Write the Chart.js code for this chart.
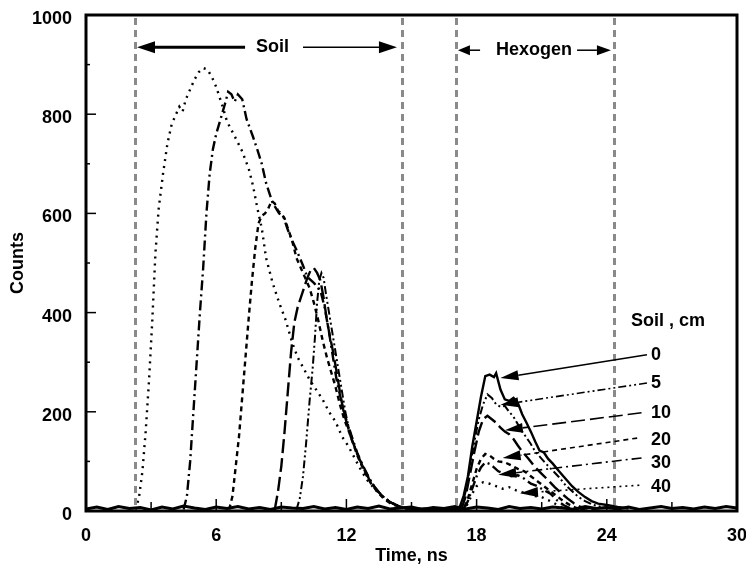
<!DOCTYPE html>
<html>
<head>
<meta charset="utf-8">
<script src="https://cdn.jsdelivr.net/npm/chart.js@4.4.0/dist/chart.umd.min.js"></script>
<style>
  html, body { margin: 0; padding: 0; background: #fff; }
  #wrap { width: 746px; height: 569px; }
</style>
</head>
<body>
<div id="wrap"><canvas id="chart"></canvas></div>
<script>
// soil depths (cm) shown in the legend
const depths = ['0', '5', '10', '20', '30', '40']

// [time ns, counts] - soil peak part
const soil5 = [[9.7, 3], [9.85, 25], [10.0, 70], [10.15, 140], [10.3, 220], [10.45, 290], [10.55, 350], [10.65, 420], [10.75, 465], [10.85, 480], [10.95, 470], [11.05, 440], [11.2, 400], [11.35, 360], [11.5, 320], [11.65, 280], [11.8, 240], [11.95, 200], [12.1, 170], [12.3, 140], [12.6, 105], [12.9, 78], [13.2, 55], [13.5, 38], [13.8, 25], [14.1, 16], [14.5, 9], [14.9, 5], [16.0, 4]]
const soil10 = [[8.7, 3], [8.85, 40], [9.0, 90], [9.15, 160], [9.3, 240], [9.45, 320], [9.6, 380], [9.75, 410], [9.9, 430], [10.05, 450], [10.2, 470], [10.35, 485], [10.5, 490], [10.65, 480], [10.8, 465], [10.95, 430], [11.1, 385], [11.25, 350], [11.4, 318], [11.55, 280], [11.7, 240], [11.85, 205], [12.0, 180], [12.2, 150], [12.5, 115], [12.8, 85], [13.1, 60], [13.4, 42], [13.7, 28], [14.0, 18], [14.4, 10], [14.8, 5], [16.0, 4]]
const soil20 = [[6.6, 3], [6.75, 30], [6.9, 90], [7.05, 150], [7.2, 230], [7.35, 310], [7.5, 390], [7.65, 465], [7.8, 530], [7.95, 580], [8.1, 595], [8.25, 600], [8.4, 610], [8.55, 625], [8.7, 620], [8.85, 605], [9.0, 600], [9.15, 590], [9.3, 570], [9.5, 545], [9.7, 510], [9.9, 490], [10.1, 470], [10.3, 450], [10.5, 420], [10.7, 385], [10.9, 345], [11.1, 310], [11.3, 280], [11.5, 250], [11.7, 215], [11.9, 185], [12.2, 150], [12.5, 112], [12.8, 82], [13.1, 58], [13.4, 40], [13.7, 26], [14.0, 16], [14.4, 9], [14.8, 5], [16.0, 4]]
const soil30 = [[4.5, 3], [4.65, 30], [4.8, 100], [4.95, 200], [5.1, 300], [5.25, 400], [5.4, 490], [5.55, 600], [5.7, 680], [5.85, 730], [6.0, 760], [6.2, 790], [6.4, 820], [6.55, 845], [6.7, 840], [6.85, 825], [7.0, 840], [7.2, 830], [7.4, 790], [7.7, 754], [7.9, 728], [8.1, 700], [8.3, 661], [8.6, 621], [8.9, 600], [9.1, 593], [9.3, 567], [9.5, 545], [9.7, 526], [10.0, 495], [10.2, 472], [10.5, 460], [10.8, 445], [11.0, 410], [11.2, 360], [11.4, 305], [11.55, 264], [11.8, 215], [12.0, 183], [12.25, 150], [12.5, 117], [12.8, 88], [13.1, 62], [13.4, 42], [13.7, 28], [14.0, 18], [14.4, 10], [14.8, 5], [16.0, 4]]
const soil40 = [[2.3, 3], [2.45, 30], [2.6, 80], [2.75, 160], [2.9, 260], [3.05, 380], [3.2, 520], [3.35, 610], [3.55, 680], [3.75, 740], [3.95, 780], [4.15, 800], [4.3, 815], [4.45, 805], [4.6, 830], [4.8, 850], [5.0, 870], [5.2, 885], [5.4, 893], [5.6, 890], [5.8, 875], [6.0, 855], [6.3, 815], [6.5, 785], [6.8, 760], [7.2, 725], [7.5, 690], [7.7, 655], [7.9, 610], [8.1, 570], [8.3, 510], [8.6, 460], [8.9, 420], [9.2, 385], [9.5, 340], [9.75, 310], [10.0, 290], [10.3, 265], [10.6, 245], [10.9, 225], [11.2, 200], [11.5, 180], [11.8, 150], [12.1, 130], [12.4, 105], [12.7, 80], [13.0, 60], [13.3, 45], [13.6, 32], [13.9, 22], [14.2, 14], [14.5, 8], [15.0, 4], [16.0, 4]]

// [time ns, counts] - hexogen peak part
const hex0 = [[17.0, 4], [17.2, 5], [17.4, 30], [17.6, 70], [17.8, 130], [18.0, 180], [18.2, 230], [18.4, 272], [18.6, 275], [18.8, 270], [18.9, 278], [19.1, 245], [19.3, 225], [19.5, 222], [19.7, 228], [19.9, 218], [20.1, 195], [20.3, 178], [20.5, 160], [20.7, 140], [20.9, 122], [21.1, 118], [21.3, 105], [21.5, 96], [21.8, 80], [22.1, 65], [22.4, 50], [22.7, 38], [23.0, 28], [23.3, 20], [23.6, 15], [24.0, 12], [24.5, 8], [25.0, 5]]
const hex5 = [[17.3, 5], [17.5, 40], [17.7, 90], [17.9, 140], [18.1, 185], [18.3, 215], [18.5, 235], [18.7, 228], [18.9, 215], [19.1, 210], [19.3, 212], [19.5, 200], [19.7, 190], [19.9, 175], [20.1, 160], [20.3, 148], [20.5, 135], [20.7, 120], [20.9, 110], [21.2, 95], [21.5, 82], [21.8, 68], [22.1, 52], [22.4, 40], [22.7, 28], [23.0, 20], [23.4, 12], [23.8, 8], [24.5, 5]]
const hex10 = [[17.3, 4], [17.5, 30], [17.7, 75], [17.9, 120], [18.1, 160], [18.3, 185], [18.5, 192], [18.7, 185], [18.9, 178], [19.1, 168], [19.3, 160], [19.5, 155], [19.7, 145], [19.9, 132], [20.1, 120], [20.4, 105], [20.7, 88], [21.0, 75], [21.3, 62], [21.6, 48], [21.9, 36], [22.2, 25], [22.5, 15], [22.8, 8], [23.5, 5]]
const hex20 = [[17.4, 4], [17.6, 25], [17.8, 55], [18.0, 85], [18.2, 105], [18.4, 115], [18.6, 112], [18.8, 105], [19.0, 100], [19.3, 98], [19.6, 92], [19.9, 85], [20.2, 80], [20.5, 70], [20.8, 60], [21.1, 50], [21.4, 40], [21.7, 30], [22.0, 20], [22.3, 12], [22.6, 6], [23.5, 4]]
const hex30 = [[17.4, 3], [17.6, 20], [17.8, 45], [18.0, 70], [18.2, 88], [18.4, 98], [18.6, 95], [18.8, 88], [19.0, 80], [19.3, 75], [19.6, 70], [19.9, 72], [20.2, 65], [20.5, 55], [20.8, 50], [21.1, 42], [21.4, 35], [21.7, 22], [22.0, 12], [22.3, 6], [23.0, 4]]
const hex40 = [[17.4, 3], [17.6, 15], [17.8, 35], [18.0, 50], [18.3, 58], [18.6, 55], [18.9, 50], [19.2, 45], [19.5, 48], [19.8, 42], [20.1, 38], [20.4, 35], [20.7, 30], [21.0, 28], [21.3, 22], [21.6, 15], [21.9, 8], [22.2, 4], [23.0, 3]]

// noisy background along the time axis
const baseTimes = [0, 0.5, 1, 1.5, 2, 2.5, 3, 3.5, 4, 4.5, 5, 5.5, 6, 6.5, 7, 7.5, 8, 8.5, 9, 9.5, 10, 10.5, 11, 11.5, 12, 12.5, 13, 13.5, 14, 14.5, 15, 15.5, 16, 16.5, 17, 17.5, 18, 18.5, 19, 19.5, 20, 20.5, 21, 21.5, 22, 22.5, 23, 23.5, 24, 24.5, 25, 25.5, 26, 26.5, 27, 27.5, 28, 28.5, 29, 29.5, 30]
const baseCounts = [4, 8, 3, 9, 5, 7, 2, 8, 4, 10, 6, 3, 8, 5, 9, 4, 7, 3, 8, 6, 5, 9, 4, 7, 3, 8, 5, 10, 4, 6, 8, 3, 7, 5, 9, 4, 8, 6, 3, 9, 5, 7, 4, 8, 6, 3, 9, 5, 7, 4, 8, 3, 6, 9, 5, 7, 4, 8, 5, 9, 6]

// y tick labels
const countTicks = ['0', '200', '400', '600', '800', '1000']

// region markers (ns)
const regionLines = [2.26, 14.55, 17.05, 24.33]

const FONT = '"Liberation Sans", Arial, sans-serif'

const series = [
  { label: '0', data: hex0, dash: [], width: 2.4 },
  { label: '5', data: soil5.concat(hex5), dash: [8, 3, 2, 3, 2, 3], width: 2 },
  { label: '10', data: soil10.concat(hex10), dash: [14, 5], width: 2.4 },
  { label: '20', data: soil20.concat(hex20), dash: [5, 4], width: 2.4 },
  { label: '30', data: soil30.concat(hex30), dash: [10, 4, 2, 4], width: 2.4 },
  { label: '40', data: soil40.concat(hex40), dash: [2, 5], width: 2.4 }
]

// legend arrows: start of arrow, tip of arrow (data units)
const legendArrows = [
  { from: [25.85, 315], to: [19.1, 268], dash: [] },
  { from: [25.85, 258], to: [19.1, 214], dash: [8, 3, 2, 3, 2, 3] },
  { from: [25.6, 198], to: [19.3, 163], dash: [14, 5] },
  { from: [25.4, 147], to: [19.2, 107], dash: [5, 4] },
  { from: [25.6, 107], to: [19.0, 73], dash: [10, 4, 2, 4] },
  { from: [25.5, 52], to: [20.0, 36], dash: [2, 4] }
]
const legendLabelY = [314, 258, 198, 143, 97, 48]

function arrow(ctx, x1, y1, x2, y2, len, half, width, dash) {
  const ang = Math.atan2(y2 - y1, x2 - x1)
  const bx = x2 - Math.cos(ang) * len
  const by = y2 - Math.sin(ang) * len
  ctx.save()
  ctx.strokeStyle = '#000'
  ctx.lineWidth = width
  ctx.setLineDash(dash || [])
  ctx.beginPath()
  ctx.moveTo(x1, y1)
  ctx.lineTo(bx, by)
  ctx.stroke()
  ctx.setLineDash([])
  ctx.fillStyle = '#000'
  ctx.beginPath()
  ctx.moveTo(x2, y2)
  ctx.lineTo(bx + Math.sin(ang) * half, by - Math.cos(ang) * half)
  ctx.lineTo(bx - Math.sin(ang) * half, by + Math.cos(ang) * half)
  ctx.closePath()
  ctx.fill()
  ctx.restore()
}

const decor = {
  id: 'decor',
  afterDatasetsDraw(chart) {
    const { ctx, chartArea: a, scales: { x, y } } = chart

    // gray dashed region lines
    ctx.save()
    ctx.strokeStyle = '#8a8a8a'
    ctx.lineWidth = 3
    ctx.setLineDash([7, 5])
    regionLines.forEach(t => {
      const px = Math.round(x.getPixelForValue(t)) + 0.5
      ctx.beginPath()
      ctx.moveTo(px, a.top + 3)
      ctx.lineTo(px, a.bottom)
      ctx.stroke()
    })
    ctx.restore()

    // frame
    ctx.save()
    ctx.strokeStyle = '#000'
    ctx.lineWidth = 3
    ctx.strokeRect(a.left, a.top, a.right - a.left, a.bottom - a.top)

    // inward ticks
    ctx.lineWidth = 1.5
    for (let v = 100; v < 1000; v += 100) {
      const py = y.getPixelForValue(v)
      const len = v % 200 === 0 ? 10 : 4
      ctx.beginPath()
      ctx.moveTo(a.left, py)
      ctx.lineTo(a.left + len, py)
      ctx.stroke()
    }
    for (let t = 3; t < 30; t += 3) {
      const px = x.getPixelForValue(t)
      const len = t % 6 === 0 ? 12 : 9
      ctx.beginPath()
      ctx.moveTo(px, a.bottom)
      ctx.lineTo(px, a.bottom - len)
      ctx.stroke()
    }
    ctx.restore()

    // region labels with arrows
    ctx.save()
    ctx.font = 'bold 18px ' + FONT
    ctx.fillStyle = '#000'
    ctx.textAlign = 'center'
    ctx.textBaseline = 'middle'
    const ys = y.getPixelForValue(935)
    ctx.fillText('Soil', x.getPixelForValue(8.6), ys)
    arrow(ctx, x.getPixelForValue(7.33), ys, x.getPixelForValue(2.35), ys, 18, 6, 3)
    arrow(ctx, x.getPixelForValue(10.0), ys, x.getPixelForValue(14.33), ys, 18, 6, 1.5)
    const yh = y.getPixelForValue(929)
    ctx.fillText('Hexogen', x.getPixelForValue(20.65), yh)
    arrow(ctx, x.getPixelForValue(18.16), yh, x.getPixelForValue(17.14), yh, 12, 5, 1.5)
    arrow(ctx, x.getPixelForValue(22.63), yh, x.getPixelForValue(24.19), yh, 14, 5, 1.5)

    // legend
    ctx.fillText('Soil , cm', x.getPixelForValue(26.82), y.getPixelForValue(383))
    ctx.textAlign = 'left'
    depths.forEach((d, i) => {
      ctx.fillText(d, x.getPixelForValue(26.04), y.getPixelForValue(legendLabelY[i]))
      const ar = legendArrows[i]
      arrow(ctx,
        x.getPixelForValue(ar.from[0]), y.getPixelForValue(ar.from[1]),
        x.getPixelForValue(ar.to[0]), y.getPixelForValue(ar.to[1]),
        18, 5, 1.6, ar.dash)
    })
    ctx.restore()
  }
}

const datasets = series.map(s => ({
  label: s.label,
  data: s.data,
  borderColor: '#000',
  borderWidth: s.width,
  borderDash: s.dash,
  pointRadius: 0,
  tension: 0,
  fill: false
}))
datasets.push({
  label: 'background',
  data: baseTimes.map((t, i) => [t, baseCounts[i]]),
  borderColor: '#000',
  borderWidth: 3,
  pointRadius: 0,
  tension: 0,
  fill: false
})

new Chart(document.getElementById('chart'), {
  type: 'line',
  data: { datasets },
  options: {
    responsive: true,
    maintainAspectRatio: false,
    animation: false,
    layout: { padding: { top: 15, right: 9, left: 0, bottom: 0 } },
    scales: {
      x: {
        type: 'linear',
        min: 0,
        max: 30,
        grid: { display: false },
        border: { display: false },
        ticks: {
          stepSize: 6,
          padding: 6,
          color: '#000',
          maxRotation: 0,
          font: { family: FONT, size: 18, weight: 'bold' }
        },
        title: {
          display: true,
          text: 'Time, ns',
          color: '#000',
          padding: 2,
          font: { family: FONT, size: 18, weight: 'bold' }
        },
        afterFit: scale => {
          scale.height = 58
          scale.paddingLeft = 0
          scale.paddingRight = 0
        }
      },
      y: {
        min: 0,
        max: 1000,
        grid: { display: false },
        border: { display: false },
        ticks: {
          stepSize: 200,
          padding: 6,
          labelOffset: 4,
          color: '#000',
          font: { family: FONT, size: 18, weight: 'bold' },
          callback: (v, i) => countTicks[i]
        },
        title: {
          display: true,
          text: 'Counts',
          color: '#000',
          padding: 7,
          font: { family: FONT, size: 18, weight: 'bold' }
        },
        afterFit: scale => {
          scale.width = 86
          scale.paddingTop = 0
          scale.paddingBottom = 0
        }
      }
    },
    plugins: {
      legend: { display: false },
      tooltip: { enabled: false }
    }
  },
  plugins: [decor]
})
</script>
</body>
</html>
